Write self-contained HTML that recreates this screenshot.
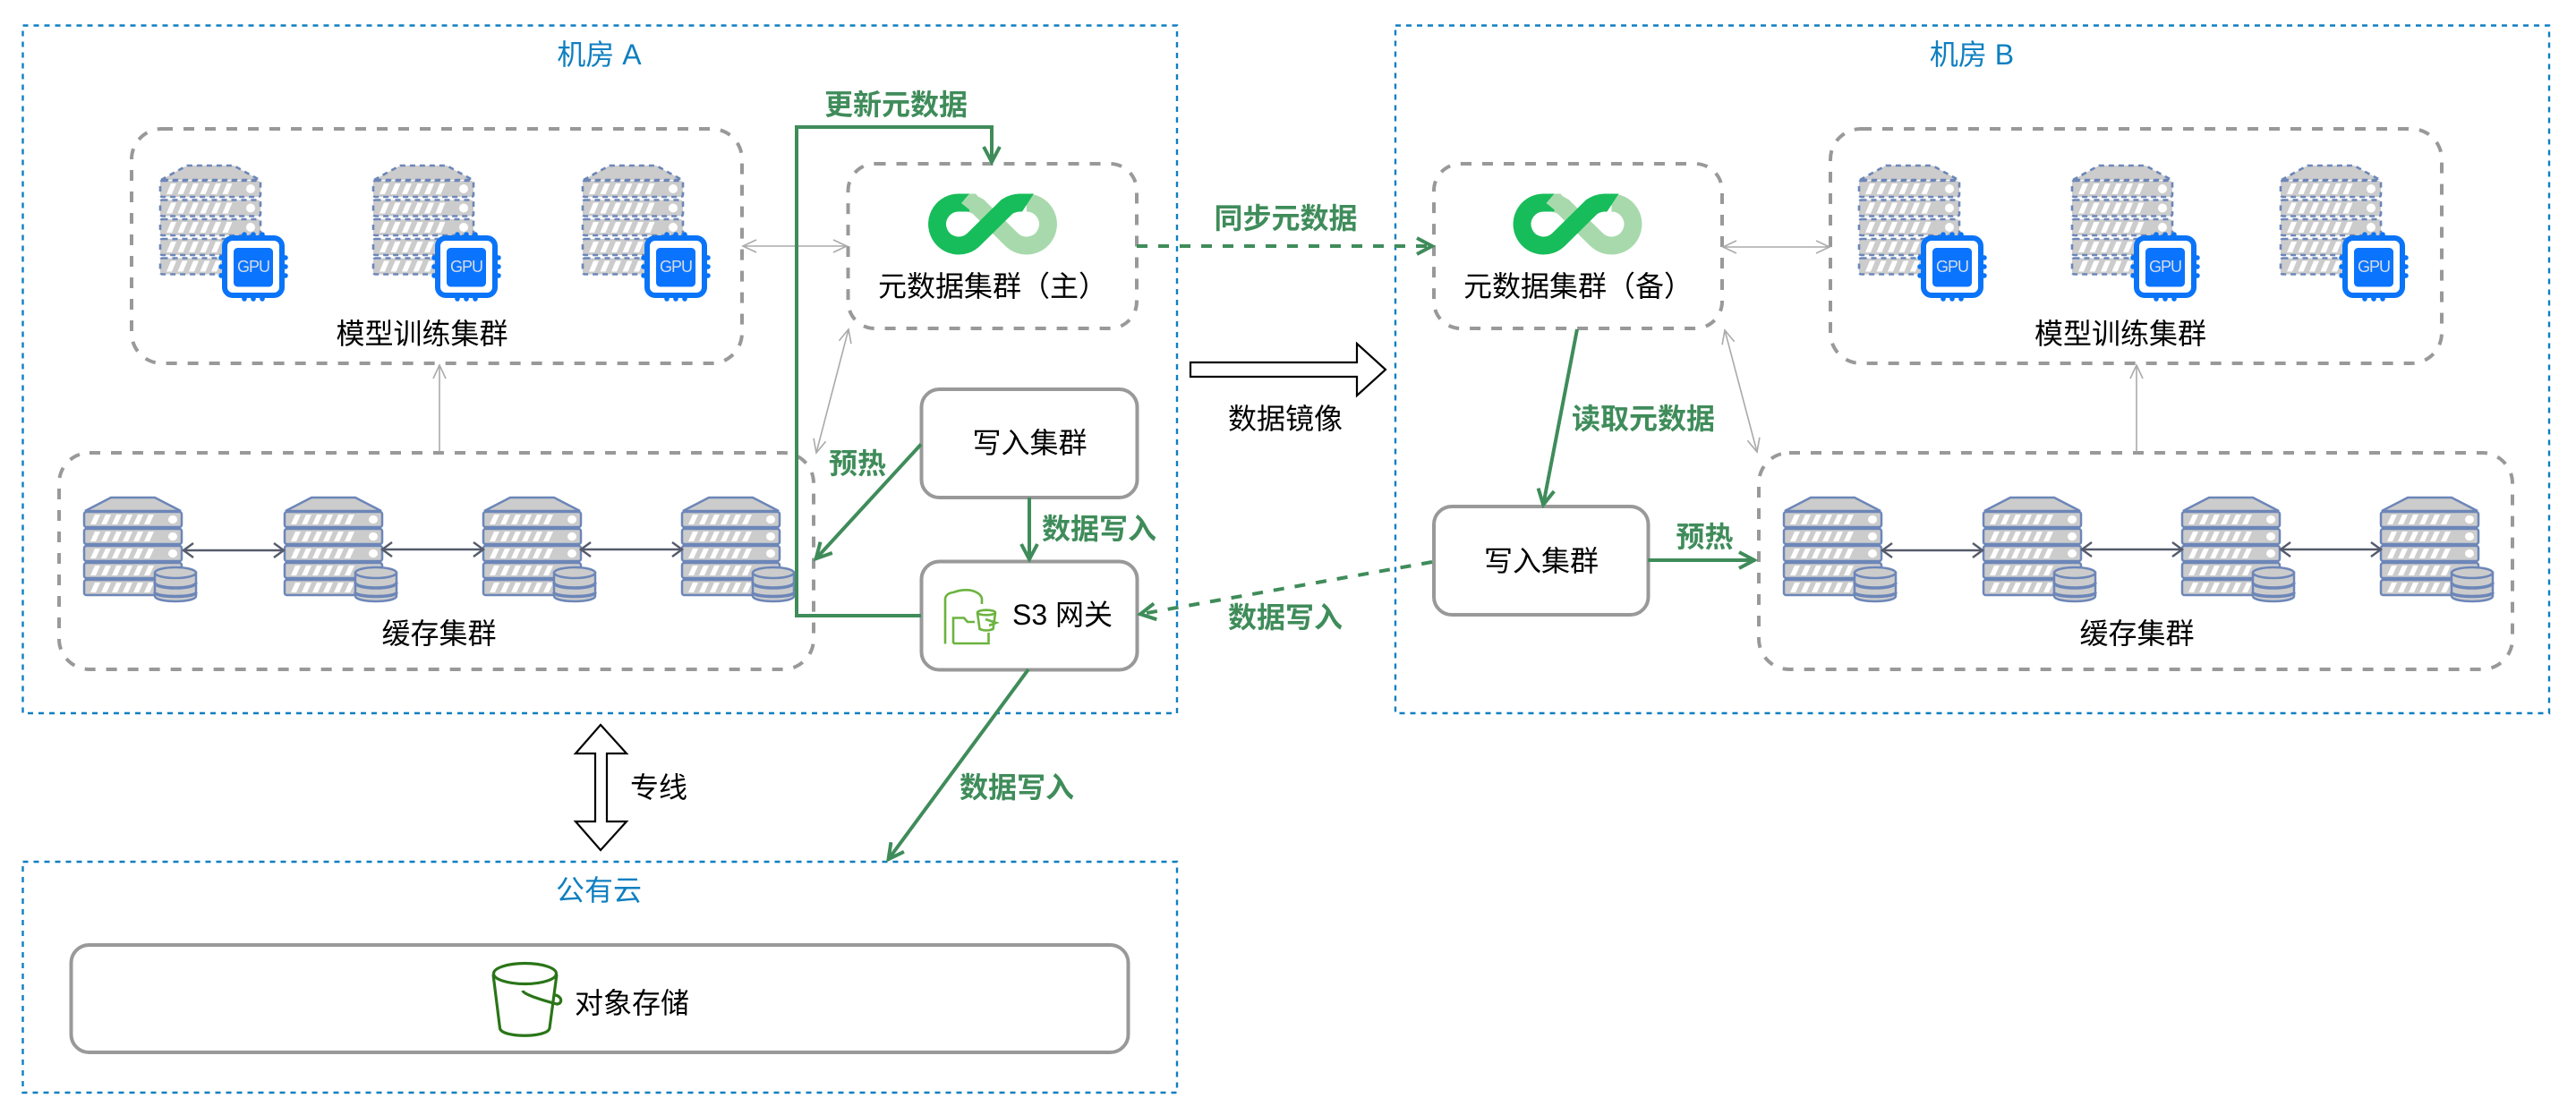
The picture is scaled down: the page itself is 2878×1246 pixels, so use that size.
<!DOCTYPE html>
<html lang="zh"><head><meta charset="utf-8"><title>Diagram</title>
<style>
html,body{margin:0;padding:0;background:#fff}
svg{display:block}
text{font-family:"Liberation Sans","Noto Sans CJK SC",sans-serif;font-size:32px;text-anchor:middle;dominant-baseline:central;fill:#000}
.b{fill:#0f7fc0}
.g{fill:#3f8c5a;font-weight:700}
.u{font-size:18px;fill:#d6dde6;letter-spacing:-1px}
.blue{fill:none;stroke:#0f7fc0;stroke-width:2.4;stroke-dasharray:6 6}
.gd{fill:#fff;stroke:#999;stroke-width:4;stroke-dasharray:12 12}
.gs{fill:#fff;stroke:#999;stroke-width:4}
.gl{fill:none;stroke:#3f8c5a;stroke-width:4}
.th{fill:none;stroke:#aaa;stroke-width:1.6}
.dk{fill:none;stroke:#555b6b;stroke-width:2.4}
</style></head><body>
<svg xmlns="http://www.w3.org/2000/svg" width="2878" height="1246" viewBox="0 0 2878 1246">
<defs>
<marker id="mg" markerUnits="userSpaceOnUse" markerWidth="24" markerHeight="24" viewBox="0 0 24 24" refX="21" refY="12" orient="auto-start-reverse"><path d="M3,3 L20,12 L3,21" fill="none" stroke="#3f8c5a" stroke-width="4"/></marker>
<marker id="mt" markerUnits="userSpaceOnUse" markerWidth="20" markerHeight="20" viewBox="0 0 20 20" refX="18" refY="10" orient="auto-start-reverse"><path d="M3,3 L18,10 L3,17" fill="none" stroke="#aaa" stroke-width="1.6"/></marker>
<marker id="md" markerUnits="userSpaceOnUse" markerWidth="20" markerHeight="20" viewBox="0 0 20 20" refX="17" refY="10" orient="auto-start-reverse"><path d="M6,2 L17,10 L6,18" fill="none" stroke="#555b6b" stroke-width="2.4"/></marker>

<g id="la"><rect x="0" y="0" width="109" height="17" rx="2.5" fill="#ccc" stroke="#6c86b8" stroke-width="2.5"/><path d="M7,14l5-11h6l-5,11z m12,0l5-11h6l-5,11z m12,0l5-11h6l-5,11z m12,0l5-11h6l-5,11z m12,0l5-11h6l-5,11z m12,0l5-11h6l-5,11z" fill="#fff"/><ellipse cx="99" cy="8.5" rx="5" ry="4.6" fill="#fff"/></g>
<g id="srv">
<polygon points="1,16 30,1 79,1 108,16" fill="#ccc" stroke="#6c86b8" stroke-width="2.5"/>
<use href="#la" y="17"/><use href="#la" y="36"/><use href="#la" y="55"/><use href="#la" y="74"/><use href="#la" y="93"/>
<path d="M79,85 V111 C79,119 125,119 125,111 V85 Z" fill="#ccc" stroke="#6c86b8" stroke-width="2.5"/>
<ellipse cx="102" cy="85" rx="23" ry="6" fill="#ccc" stroke="#6c86b8" stroke-width="2.5"/>
<path d="M79,96 C79,104 125,104 125,96 M79,107 C79,113 125,113 125,107" fill="none" stroke="#6c86b8" stroke-width="3.5"/>
</g>

<g id="lg"><rect x="0" y="0" width="112" height="18" rx="2.5" fill="#ccc" stroke="#6c86b8" stroke-width="2.6" stroke-dasharray="6 5"/><path d="M7,15l5-12h6l-5,12z m12.5,0l5-12h6l-5,12z m12.5,0l5-12h6l-5,12z m12.5,0l5-12h6l-5,12z m12.5,0l5-12h6l-5,12z m12.5,0l5-12h6l-5,12z" fill="#fff"/><ellipse cx="101" cy="9" rx="5" ry="5" fill="#fff"/></g>
<g id="gpu">
<polygon points="1,17 30,1 82,1 111,17" fill="#ccc" stroke="#6c86b8" stroke-width="2.6" stroke-dasharray="6 5"/>
<use href="#lg" y="18"/><use href="#lg" y="39.5"/><use href="#lg" y="61"/><use href="#lg" y="83"/><use href="#lg" y="104.5"/>
<path d="M94,78v6M104,78v6M114,78v6M94,144v6M104,144v6M114,144v6M68,104h6M68,114h6M68,124h6M134,104h6M134,114h6M134,124h6" stroke="#0a74f8" stroke-width="5.5" stroke-linecap="round" fill="none"/>
<rect x="72" y="82" width="64" height="64" rx="9" fill="#fff" stroke="#0a74f8" stroke-width="6"/>
<rect x="82" y="93" width="44" height="43.5" rx="4.5" fill="#0a74ff"/>
</g>

<g id="logo">
<path d="M1147,226.5 A24,24 0 1 1 1130,267.5 L1093,231 Q1086,226.5 1078,226.5" fill="none" stroke-width="20" stroke="#a8d9ac"/>
<path d="M1083,226.5 H1071 A24,24 0 1 0 1088,267.5 L1125,231 Q1132,226.5 1140,226.5" fill="none" stroke-width="20" stroke="#17bd5a"/>
<polygon points="1138,216.5 1155,216.5 1142,236.5 1132,236.5" fill="#17bd5a"/>
<polygon points="1083,216.5 1090,216.5 1100,228 1090,240 1074,227" fill="#a8d9ac"/>
</g>
</defs>

<rect width="2878" height="1246" fill="#fff"/>

<!-- regions -->
<rect class="blue" x="25.5" y="28.5" width="1289.5" height="768.5"/>
<rect class="blue" x="1559" y="28.5" width="1289" height="768.5"/>
<rect class="blue" x="25.5" y="963" width="1289.5" height="258"/>

<!-- dashed clusters -->
<rect class="gd" x="147" y="144" width="682" height="262" rx="34"/>
<rect class="gd" x="66" y="506" width="843" height="242" rx="34"/>
<rect class="gd" x="947.5" y="183" width="322.5" height="184" rx="30"/>
<rect class="gd" x="1602" y="183" width="322" height="184" rx="30"/>
<rect class="gd" x="2045" y="144" width="683" height="262" rx="34"/>
<rect class="gd" x="1965" y="506" width="842" height="242" rx="34"/>

<!-- solid boxes -->
<rect class="gs" x="1029.5" y="435" width="241" height="121" rx="20"/>
<rect class="gs" x="1029.5" y="627.5" width="241" height="121" rx="20"/>
<rect class="gs" x="1602" y="566" width="239.5" height="121" rx="20"/>
<rect class="gs" x="79.5" y="1056" width="1181" height="120" rx="20"/>

<!-- GPU servers -->
<use href="#gpu" x="179" y="184"/><use href="#gpu" x="417" y="184"/><use href="#gpu" x="651" y="184"/>
<use href="#gpu" x="2077" y="184"/><use href="#gpu" x="2315" y="184"/><use href="#gpu" x="2548" y="184"/>
<text class="u" x="283" y="298">GPU</text><text class="u" x="521" y="298">GPU</text><text class="u" x="755" y="298">GPU</text>
<text class="u" x="2181" y="298">GPU</text><text class="u" x="2419" y="298">GPU</text><text class="u" x="2652" y="298">GPU</text>

<!-- cache servers -->
<use href="#srv" x="94" y="555"/><use href="#srv" x="318" y="555"/><use href="#srv" x="540" y="555"/><use href="#srv" x="762" y="555"/>
<use href="#srv" x="1993" y="555"/><use href="#srv" x="2216" y="555"/><use href="#srv" x="2438" y="555"/><use href="#srv" x="2660" y="555"/>

<!-- logos -->
<use href="#logo"/>
<use href="#logo" x="653.5"/>

<!-- S3 gateway icon -->
<g fill="none" stroke="#6cb33f" stroke-width="2.6">
<path d="M1056,719.5 V669 Q1057,663 1065,662 Q1076,658 1086,660 Q1096,663 1097,669 V675"/>
<path d="M1065,719 V690.5 H1077 L1081,695 H1089 M1065,719 H1104.5 V707"/>
<ellipse cx="1102" cy="684.5" rx="10" ry="2.8"/>
<path d="M1092,685 L1094.5,703 Q1102,706 1109.5,703 L1112,685"/>
<path d="M1101,692 L1113,696 L1105,699"/>
</g>

<!-- object bucket -->
<g fill="none" stroke="#2a7518" stroke-width="3.2">
<ellipse cx="586.5" cy="1088" rx="35" ry="11.5"/>
<path d="M551,1089 L558.5,1149 C560,1160 612,1160 614,1149 L622,1089"/>
<path d="M584,1107 Q585,1112 622,1122 C629,1122 628,1113 620,1112"/>
</g>

<!-- thin connectors -->
<line class="th" x1="830" y1="275" x2="946" y2="275" marker-start="url(#mt)" marker-end="url(#mt)"/>
<line class="th" x1="491" y1="505" x2="491" y2="408" marker-end="url(#mt)"/>
<line class="th" x1="948" y1="368" x2="912" y2="506" marker-start="url(#mt)" marker-end="url(#mt)"/>
<line class="th" x1="1925" y1="276" x2="2044" y2="276" marker-start="url(#mt)" marker-end="url(#mt)"/>
<line class="th" x1="1927" y1="369" x2="1963" y2="505" marker-start="url(#mt)" marker-end="url(#mt)"/>
<line class="th" x1="2387" y1="505" x2="2387" y2="408" marker-end="url(#mt)"/>

<!-- cache links -->
<line class="dk" x1="205" y1="615" x2="317" y2="615" marker-start="url(#md)" marker-end="url(#md)"/>
<line class="dk" x1="427" y1="614" x2="540" y2="614" marker-start="url(#md)" marker-end="url(#md)"/>
<line class="dk" x1="649" y1="614" x2="762" y2="614" marker-start="url(#md)" marker-end="url(#md)"/>
<line class="dk" x1="2103" y1="615" x2="2215" y2="615" marker-start="url(#md)" marker-end="url(#md)"/>
<line class="dk" x1="2326" y1="614" x2="2438" y2="614" marker-start="url(#md)" marker-end="url(#md)"/>
<line class="dk" x1="2548" y1="614" x2="2660" y2="614" marker-start="url(#md)" marker-end="url(#md)"/>

<!-- green connectors -->
<path class="gl" d="M1029,688 H890 V142 H1108 V182" marker-end="url(#mg)"/>
<line class="gl" x1="1029" y1="496.5" x2="911" y2="625" marker-end="url(#mg)"/>
<line class="gl" x1="1150" y1="556" x2="1150" y2="626" marker-end="url(#mg)"/>
<line class="gl" x1="1149" y1="748" x2="992" y2="961" marker-end="url(#mg)"/>
<line class="gl" x1="1270" y1="275" x2="1601" y2="275" stroke-dasharray="12 12" marker-end="url(#mg)"/>
<line class="gl" x1="1600" y1="628" x2="1273" y2="686.5" stroke-dasharray="12 12" marker-end="url(#mg)"/>
<line class="gl" x1="1762" y1="368" x2="1724" y2="565" marker-end="url(#mg)"/>
<line class="gl" x1="1841" y1="626" x2="1961" y2="626" marker-end="url(#mg)"/>

<!-- hollow arrows -->
<polygon points="1330,405 1516,405 1516,384 1548,413 1516,442 1516,421 1330,421" fill="#fff" stroke="#000" stroke-width="2.2" stroke-linejoin="miter"/>
<polygon points="671,810 700,842 678,842 678,918 700,918 671,950 643,918 665,918 665,842 643,842" fill="#fff" stroke="#000" stroke-width="2.2"/>

<!-- labels -->
<text class="b" x="669.5" y="61">机房 A</text>
<text class="b" x="2203" y="61">机房 B</text>
<text class="b" x="669" y="995">公有云</text>
<text x="471.5" y="373">模型训练集群</text>
<text x="2369" y="373">模型训练集群</text>
<text x="490.5" y="708">缓存集群</text>
<text x="2387.5" y="708">缓存集群</text>
<text x="981" y="320" style="text-anchor:start">元数据集群（主）</text>
<text x="1635" y="320" style="text-anchor:start">元数据集群（备）</text>
<text x="1150.5" y="495">写入集群</text>
<text x="1722" y="627">写入集群</text>
<text x="1187" y="687">S3 网关</text>
<text x="706" y="1121">对象存储</text>
<text x="736" y="880">专线</text>
<text x="1436" y="468">数据镜像</text>
<text class="g" x="1001" y="117">更新元数据</text>
<text class="g" x="1436.5" y="244">同步元数据</text>
<text class="g" x="958" y="518">预热</text>
<text class="g" x="1228" y="591">数据写入</text>
<text class="g" x="1436" y="690">数据写入</text>
<text class="g" x="1136" y="880">数据写入</text>
<text class="g" x="1836" y="468">读取元数据</text>
<text class="g" x="1904.5" y="600">预热</text>
</svg>
</body></html>
